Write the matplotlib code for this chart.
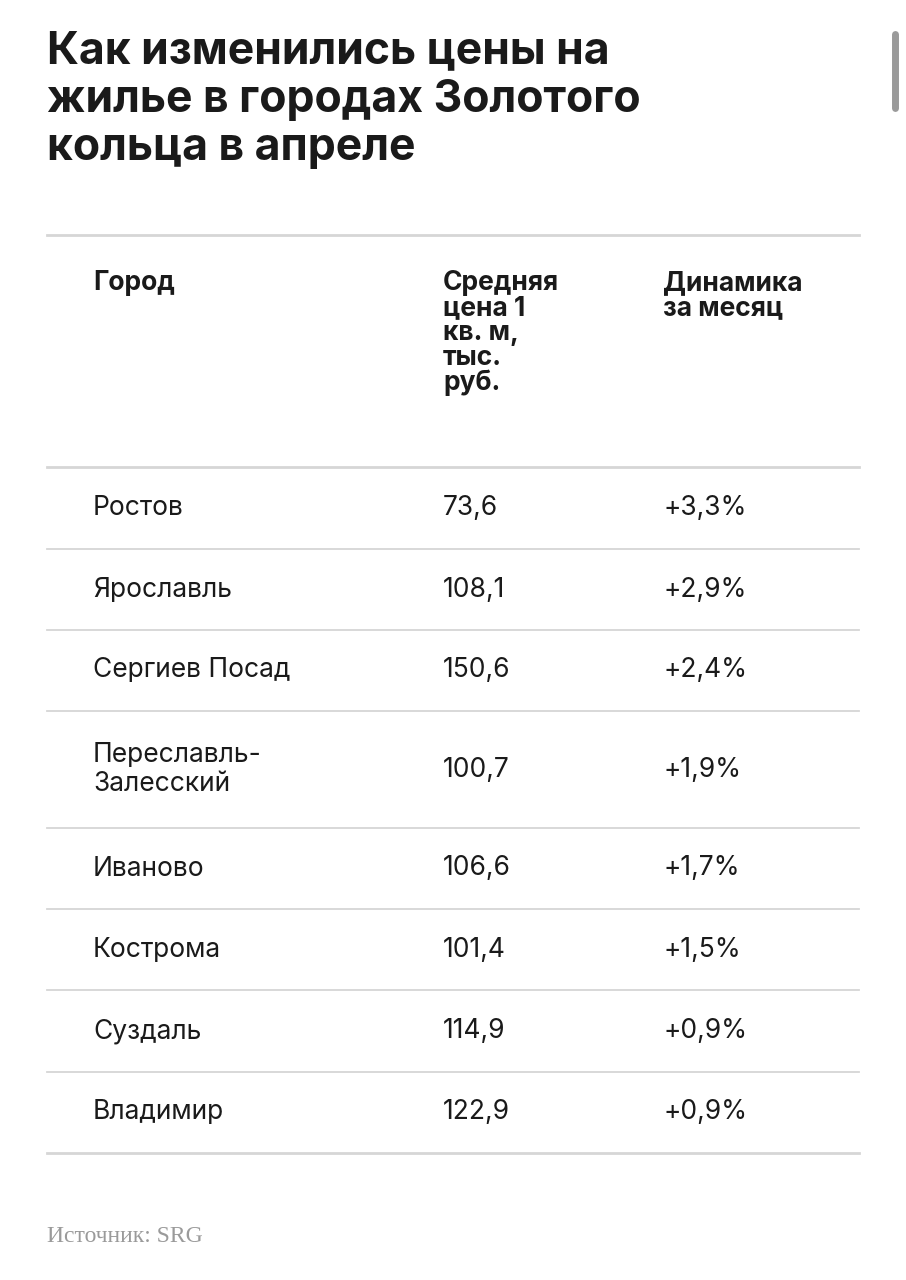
import matplotlib.pyplot as plt

title = "Как изменились цены на\nжилье в городах Золотого\nкольца в апреле"
headers = ["Город", "Средняя\nцена 1\nкв. м,\nтыс.\nруб.", "Динамика\nза месяц"]
cities = ["Ростов", "Ярославль", "Сергиев Посад", "Переславль-\nЗалесский",
          "Иваново", "Кострома", "Суздаль", "Владимир"]
prices = ["73,6", "108,1", "150,6", "100,7", "106,6", "101,4", "114,9", "122,9"]
changes = ["+3,3%", "+2,9%", "+2,4%", "+1,9%", "+1,7%", "+1,5%", "+0,9%", "+0,9%"]
source = "Источник: SRG"

# row boundaries in pixels (top of each row, last = bottom of table)
row_edges = [467, 549, 630, 711, 828, 909, 990, 1072, 1153]
col_x = [93, 443, 663]

fig = plt.figure(figsize=(9.06, 12.8), dpi=100)
ax = fig.add_axes([0, 0, 1, 1])
ax.set_xlim(0, 906)
ax.set_ylim(1280, 0)
ax.axis("off")

body = dict(family=["Inter", "DejaVu Sans"], color="#1a1a1a")

ax.text(47, 30, title, fontsize=32, fontweight="bold", va="top", ha="left",
        linespacing=1.2, **body)

ax.plot([47, 859], [235, 235], color="#d6d6d6", lw=2)
for x, h in zip(col_x, headers):
    ax.text(x, 270, h, fontsize=19, fontweight="bold", va="top", ha="left",
            linespacing=0.95, **body)

for i, (c, p, d) in enumerate(zip(cities, prices, changes)):
    y = (row_edges[i] + row_edges[i + 1]) / 2
    for x, t in zip(col_x, [c, p, d]):
        ax.text(x, y, t, fontsize=19, va="center", ha="left", linespacing=1.15, **body)

for y in row_edges:
    ax.plot([47, 859], [y, y], color="#d6d6d6", lw=2 if y in (row_edges[0], row_edges[-1]) else 1.3)

ax.text(47, 1237, source, fontsize=17, va="center", ha="left",
        family=["Liberation Serif", "DejaVu Serif"], color="#9a9a9a")

# scrollbar
ax.plot([895, 895], [34, 108], color="#9a9a9a", lw=5, solid_capstyle="round")

fig.savefig("out.png", dpi=100, facecolor="white")
